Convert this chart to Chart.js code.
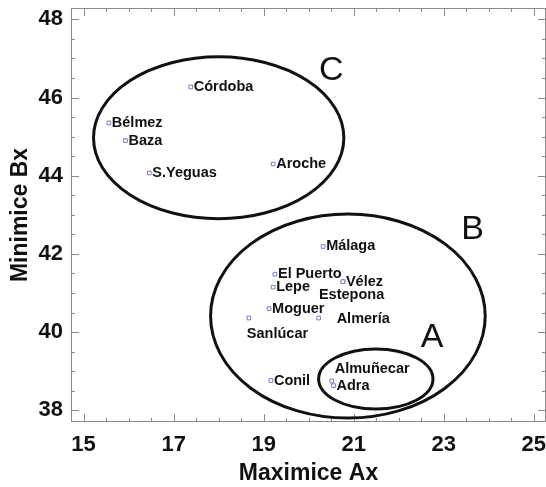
<!DOCTYPE html>
<html>
<head>
<meta charset="utf-8">
<script src="https://cdn.jsdelivr.net/npm/chart.js@4"></script>
<style>
  html, body { margin: 0; padding: 0; background: #fff; }
  canvas { display: block; }
</style>
</head>
<body>
<canvas id="chart" width="546" height="487"></canvas>
<script>
const cities = ["Córdoba", "Bélmez", "Baza", "S.Yeguas", "Aroche", "Málaga", "El Puerto", "Vélez",
  "Estepona", "Lepe", "Moguer", "Sanlúcar", "Almería", "Conil", "Almuñecar", "Adra"];
const maxAx = [17.38, 15.56, 15.93, 16.46, 19.21, 20.32, 19.25, 20.76,
  20.76, 19.21, 19.12, 18.67, 20.22, 19.16, 20.51, 20.55];
const minBx = [46.27, 45.35, 44.90, 44.07, 44.30, 42.19, 41.48, 41.29,
  41.29, 41.15, 40.60, 40.36, 40.36, 38.76, 38.75, 38.63];

const xTicks = [15, 17, 19, 21, 23, 25];
const yTicks = [38, 40, 42, 44, 46, 48];

// groups drawn as ellipses (centre and radii in axis units)
const groups = ["C", "B", "A"];
const groupCx = [18.0, 20.87, 21.49];
const groupCy = [44.97, 40.41, 38.80];
const groupRx = [2.78, 3.05, 1.27];
const groupRy = [2.07, 2.61, 0.77];
const groupTagX = [20.50, 23.64, 22.74];
const groupTagY = [46.68, 42.63, 39.87];

const FONT = '"Liberation Sans", Arial, sans-serif';
Chart.defaults.font.family = FONT;

const overlay = {
  id: "overlay",
  beforeDatasetsDraw(chart) {
    const { ctx, chartArea: a, scales: { x, y } } = chart;
    ctx.save();
    ctx.strokeStyle = "#8a8a8a";
    ctx.lineWidth = 1;
    ctx.strokeRect(a.left + 0.5, a.top + 0.5, a.right - a.left - 1, a.bottom - a.top - 1);

    // inward tick marks on all four sides
    ctx.beginPath();
    for (let v = 15; v <= 25; v += 0.5) {
      const len = xTicks.includes(v) ? 8 : 4;
      const px = Math.round(x.getPixelForValue(v)) + 0.5;
      ctx.moveTo(px, a.bottom);
      ctx.lineTo(px, a.bottom - len);
      ctx.moveTo(px, a.top);
      ctx.lineTo(px, a.top + len);
    }
    for (let v = 38; v <= 48; v += 0.5) {
      const len = yTicks.includes(v) ? 8 : 4;
      const py = Math.round(y.getPixelForValue(v)) + 0.5;
      ctx.moveTo(a.left, py);
      ctx.lineTo(a.left + len, py);
      ctx.moveTo(a.right, py);
      ctx.lineTo(a.right - len, py);
    }
    ctx.stroke();

    ctx.strokeStyle = "#111";
    ctx.lineWidth = 3;
    groups.forEach((g, i) => {
      const cx = x.getPixelForValue(groupCx[i]);
      const cy = y.getPixelForValue(groupCy[i]);
      const rx = Math.abs(x.getPixelForValue(groupCx[i] + groupRx[i]) - cx);
      const ry = Math.abs(y.getPixelForValue(groupCy[i] + groupRy[i]) - cy);
      ctx.beginPath();
      ctx.ellipse(cx, cy, rx, ry, 0, 0, 2 * Math.PI);
      ctx.stroke();
    });

    ctx.fillStyle = "#111";
    ctx.font = "34px " + FONT;
    ctx.textAlign = "center";
    ctx.textBaseline = "middle";
    groups.forEach((g, i) => {
      ctx.fillText(g, x.getPixelForValue(groupTagX[i]), y.getPixelForValue(groupTagY[i]));
    });
    ctx.restore();
  },
  afterDatasetsDraw(chart) {
    const { ctx } = chart;
    const meta = chart.getDatasetMeta(0);
    // labels that sit away from their marker
    const nudge = {
      "Sanlúcar": [-2, 16],
      "Almería": [18, 1],
      "Estepona": [-24, 13],
      "Almuñecar": [3, -12]
    };
    ctx.save();
    ctx.fillStyle = "#111";
    ctx.font = "bold 14.5px " + FONT;
    ctx.textAlign = "left";
    ctx.textBaseline = "middle";
    meta.data.forEach((pt, i) => {
      const d = nudge[cities[i]] || [3, 0];
      ctx.fillText(cities[i], pt.x + d[0], pt.y + d[1]);
    });
    ctx.restore();
  }
};

new Chart(document.getElementById("chart"), {
  type: "scatter",
  data: {
    labels: cities,
    datasets: [{
      data: maxAx.map((v, i) => ({ x: v, y: minBx[i] })),
      pointStyle: "rect",
      pointRadius: 2.6,
      borderWidth: 1,
      borderColor: "#7080cc",
      backgroundColor: "#fff"
    }]
  },
  options: {
    responsive: false,
    animation: false,
    events: [],
    layout: { autoPadding: false, padding: { top: 8, right: 0, bottom: 0, left: 0 } },
    plugins: { legend: { display: false }, tooltip: { enabled: false } },
    scales: {
      x: {
        type: "linear",
        min: 14.72,
        max: 25.27,
        afterBuildTicks: (s) => { s.ticks = xTicks.map((v) => ({ value: v })); },
        afterFit: (s) => {
          s.height = 65;
          s.paddingLeft = 0;
          s.paddingRight = 0;
        },
        grid: { display: false, drawTicks: false },
        border: { display: false },
        ticks: {
          autoSkip: false,
          maxRotation: 0,
          padding: 10,
          color: "#111",
          font: { size: 22, weight: "bold" }
        },
        title: {
          display: true,
          text: "Maximice Ax",
          color: "#111",
          font: { size: 23, weight: "bold" },
          padding: { top: 0, bottom: 0 }
        }
      },
      y: {
        type: "linear",
        min: 37.70,
        max: 48.29,
        afterBuildTicks: (s) => { s.ticks = yTicks.map((v) => ({ value: v })); },
        afterFit: (s) => {
          s.width = 71;
          s.paddingTop = 0;
          s.paddingBottom = 0;
        },
        grid: { display: false, drawTicks: false },
        border: { display: false },
        ticks: {
          autoSkip: false,
          padding: 8,
          color: "#111",
          font: { size: 22, weight: "bold" }
        },
        title: {
          display: true,
          text: "Minimice Bx",
          color: "#111",
          font: { size: 23, weight: "bold" },
          padding: { top: 7, bottom: 0 }
        }
      }
    }
  },
  plugins: [overlay]
});
</script>
</body>
</html>
